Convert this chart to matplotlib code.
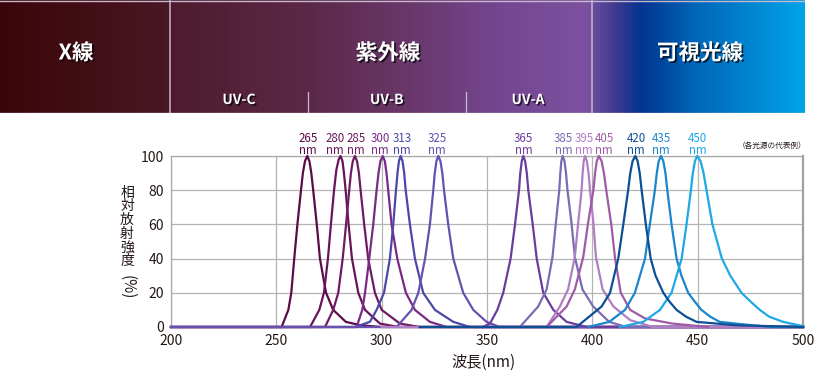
import matplotlib
matplotlib.use("Agg")
import matplotlib.pyplot as plt
import matplotlib.patheffects as pe
from matplotlib.colors import LinearSegmentedColormap
import numpy as np

plt.rcParams['font.family'] = ['Noto Sans CJK JP', 'DejaVu Sans']

# peak labels and colours
peaks = ['265', '280', '285', '300', '313', '325', '365', '385', '395', '405', '420', '435', '450']
label_pos = [265, 277.8, 287.8, 299.3, 309.6, 326.3, 367.4, 386.3, 396, 405.6, 420.7, 432.6, 450]
colors = ['#5a0c48', '#68145a', '#6e1c62', '#7a2a86', '#4c48a8', '#6650b0', '#6c3c9c',
          '#7a6cb4', '#b07ec4', '#a05aa8', '#0c4f94', '#1a86cc', '#1fa8e6']

# spectra: wavelength (nm), relative intensity (%)
wl_265 = [200, 252.5, 255.7, 257.1, 258.5, 260, 261.7, 262.6, 263.6, 264.7, 265.7, 266.6, 267.5, 269.2, 270.7, 273.6, 277, 283, 290, 300, 500]
pc_265 = [0, 0, 10, 20, 40, 60, 80, 90, 97, 100, 97, 90, 80, 60, 40, 20, 10, 3, 1, 0, 0]
wl_280 = [200, 266, 270.4, 272.6, 274.5, 275.9, 277.4, 278.5, 279.6, 280.5, 281.4, 282.1, 282.9, 284.3, 285.9, 288.9, 292.1, 299.2, 308, 500]
pc_280 = [0, 0, 10, 20, 40, 60, 80, 92, 98, 100, 97, 90, 80, 60, 40, 20, 10, 2, 0, 0]
wl_285 = [200, 273.1, 277, 279.4, 281.5, 283.1, 284.6, 285.4, 286.3, 287.3, 288.3, 289.2, 290, 291.7, 293.6, 296.8, 300, 308.7, 318, 500]
pc_285 = [0, 0, 10, 20, 40, 60, 80, 90, 97, 100, 97, 90, 80, 60, 40, 20, 10, 2, 0, 0]
wl_300 = [200, 288.1, 290.8, 292.1, 294.1, 296, 297.6, 298.5, 299.4, 300.5, 301.5, 302.3, 303.1, 304.7, 307.4, 311.5, 315.8, 322.9, 330.8, 500]
pc_300 = [0, 0, 10, 20, 40, 60, 80, 90, 97, 100, 97, 90, 80, 60, 40, 20, 10, 3, 0, 0]
wl_313 = [200, 287.3, 294.4, 297.6, 301.1, 303.9, 305.5, 306.8, 307.5, 308.2, 309, 309.9, 310.7, 311.4, 313.4, 315.8, 319.7, 325.3, 334, 341.9, 500]
pc_313 = [0, 0, 3, 10, 20, 40, 60, 80, 90, 97, 100, 97, 90, 80, 60, 40, 20, 10, 3, 0, 0]
wl_325 = [200, 307.1, 314.2, 317.4, 320.6, 322.9, 324.5, 325.2, 326, 326.9, 327.9, 328.8, 329.6, 331.6, 334, 338.7, 343.5, 349.8, 356, 500]
pc_325 = [0, 0, 10, 20, 40, 60, 80, 90, 97, 100, 97, 90, 80, 60, 40, 20, 10, 3, 0, 0]
wl_365 = [348, 351.4, 354.9, 357.7, 361.2, 363.3, 365.2, 365.8, 366.5, 367.2, 368.1, 368.9, 369.6, 371.7, 373.6, 376.7, 381.5, 387.8, 397.3, 500]
pc_365 = [0, 2, 10, 20, 40, 60, 80, 90, 97, 100, 97, 90, 80, 60, 40, 20, 10, 3, 0, 0]
wl_385 = [365.6, 374.3, 378.3, 381.1, 382.7, 384.3, 384.8, 385.3, 385.9, 386.8, 387.5, 388.2, 390.1, 391.7, 395.3, 400.4, 408, 416.2, 500]
pc_385 = [0, 12, 22, 41, 61, 80, 90, 97, 100, 97, 90, 80, 61, 41, 22, 12, 3, 0, 0]
wl_395 = [300, 378.3, 384.6, 388.5, 391.7, 393.3, 394.9, 395.4, 395.9, 396.5, 397.4, 398.2, 398.9, 400.5, 401.7, 404.9, 410, 418, 428.8, 500]
pc_395 = [0, 0, 12, 22, 41, 61, 80, 90, 97, 100, 97, 90, 80, 61, 41, 22, 12, 4, 0, 0]
wl_405 = [378.3, 387.8, 391.7, 395.7, 398, 400.5, 401.3, 402.1, 403.1, 404.4, 405.5, 406.6, 409, 410.8, 413.5, 418, 425, 438, 455]
pc_405 = [0, 12, 22, 41, 61, 80, 90, 97, 100, 97, 90, 80, 60, 40, 20, 10, 5, 2, 0]
wl_420 = [318, 392.5, 404.4, 408.4, 412.3, 414.7, 417, 418, 419.1, 420.4, 421.5, 422.5, 423.4, 425.4, 427.7, 430, 433.7, 436.5, 440, 444.5, 449.5, 468.5, 500]
pc_420 = [0, 0, 12, 20, 40, 60, 80, 90, 97, 100, 97, 90, 80, 60, 40, 30, 20, 15, 10, 6, 3, 1, 0]
wl_435 = [398, 408, 415.5, 420.2, 425, 427.3, 429.7, 430.6, 431.5, 432.6, 433.7, 434.7, 435.6, 437.6, 440, 442.3, 445.5, 448.5, 451.8, 456, 460.5, 472, 485, 500]
pc_435 = [0, 3, 10, 20, 40, 60, 80, 90, 97, 100, 97, 90, 80, 60, 40, 30, 20, 15, 10, 6, 3, 1.5, 0, 0]
wl_450 = [413, 424.2, 432.1, 437.6, 442.4, 444.7, 446.8, 447.7, 448.7, 449.8, 451.4, 452.8, 454.2, 457, 461.5, 465.5, 470.8, 475, 479.5, 484, 490.6, 500]
pc_450 = [0, 3, 10, 20, 40, 60, 80, 90, 97, 100, 97, 90, 80, 60, 40, 30, 20, 15, 10, 6, 3, 0.5]

curves = [(wl_265, pc_265), (wl_280, pc_280), (wl_285, pc_285), (wl_300, pc_300),
          (wl_313, pc_313), (wl_325, pc_325), (wl_365, pc_365), (wl_385, pc_385),
          (wl_395, pc_395), (wl_405, pc_405), (wl_420, pc_420), (wl_435, pc_435),
          (wl_450, pc_450)]

x_ticks = [200, 250, 300, 350, 400, 450, 500]
y_ticks = [0, 20, 40, 60, 80, 100]

# band across the top (pixel positions and colours)
band_stops = [(0, '#3c0509'), (85, '#420e16'), (169, '#4a1826'), (172, '#4e1c2e'),
              (300, '#5a2844'), (400, '#683668'), (500, '#744690'), (589, '#7c52a0'),
              (593, '#6a4e9e'), (617, '#40388f'), (643, '#003590'), (700, '#0068ba'),
              (805, '#00a3e8')]
W, H = 817, 371

fig = plt.figure(figsize=(W / 100, H / 100), dpi=100)

band = fig.add_axes([0, 1 - 113 / H, 805 / W, 113 / H])
cmap = LinearSegmentedColormap.from_list('band', [(p / 805, c) for p, c in band_stops])
band.imshow(np.linspace(0, 1, 805)[None, :], aspect='auto', cmap=cmap,
            extent=[0, 805, 113, 0], interpolation='bilinear')
band.set_xlim(0, 805)
band.set_ylim(113, 0)
band.axis('off')
for xv in [170, 591.5]:
    band.plot([xv, xv], [0, 113], color='#c8b8cc', lw=1.1)
for xv in [308.3, 465.7]:
    band.plot([xv, xv], [92, 113], color='#c8b8cc', lw=0.9)
band.plot([0, 805], [0.5, 0.5], color='#c8b8cc', lw=1)
band.plot([0, 805], [112.5, 112.5], color='#c8b8cc', lw=1)

shadow = [pe.SimplePatchShadow(offset=(1.2, -1.2), shadow_rgbFace='black', alpha=0.7), pe.Normal()]
for txt, xv in [('X線', 76), ('紫外線', 388), ('可視光線', 700)]:
    band.text(xv, 53, txt, color='white', fontsize=15.5, fontweight='bold',
              ha='center', va='center', path_effects=shadow)
for txt, xv in [('UV-C', 239), ('UV-B', 386.7), ('UV-A', 528)]:
    band.text(xv, 100, txt, color='white', fontsize=10, fontweight='bold',
              ha='center', va='center', path_effects=shadow)

# chart
ax = fig.add_axes([171 / W, 1 - 327 / H, 632 / W, 171 / H])
for i, (wl, pc) in enumerate(curves):
    ax.plot(wl, pc, color=colors[i], lw=1.6, clip_on=False,
            zorder=4 if peaks[i] == '420' else 3, solid_joinstyle='round')

ax.set_xlim(200, 500)
ax.set_ylim(0, 100)
ax.set_xticks(x_ticks)
ax.set_yticks(y_ticks)
ax.tick_params(length=0, labelsize=10, colors='#231815', pad=5)
ax.grid(color='#b4b4b4', lw=0.9)
ax.set_axisbelow(True)
for s in ['left', 'top', 'bottom']:
    ax.spines[s].set_color('#a8a8a8')
    ax.spines[s].set_linewidth(0.9)
ax.spines['right'].set_color('#a0a0a0')
ax.spines['right'].set_linewidth(1.6)

# two-line peak labels: number over "nm"
for i, p in enumerate(peaks):
    ax.text(label_pos[i], 106.9, p + '\nnm', color=colors[i], fontsize=8.3,
            ha='center', va='center', linespacing=0.92, clip_on=False)

fig.text(806 / W, 1 - 146 / H, '（各光源の代表例）', fontsize=5.5, color='#231815',
         ha='right', va='center')

# vertical y label
fig.text(127 / W, 1 - 227 / H, '\n'.join('相対放射強度'), fontsize=10, color='#231815',
         ha='center', va='center', linespacing=0.98)
fig.text(127 / W, 1 - 287 / H, '(%)', fontsize=11, color='#231815', rotation=-90,
         ha='center', va='center')

fig.text(483 / W, 1 - 362 / H, '波長(nm)', fontsize=11, color='#231815',
         ha='center', va='center')

fig.savefig('out.png', dpi=100)
